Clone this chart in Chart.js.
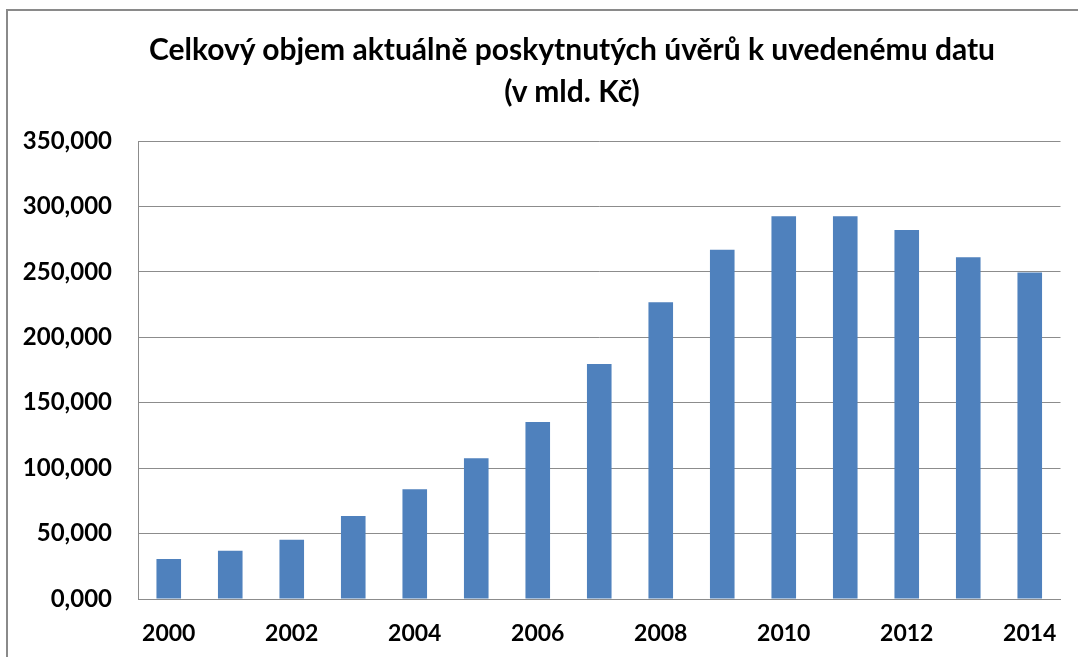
<!DOCTYPE html>
<html>
<head>
<meta charset="utf-8">
<script src="https://cdn.jsdelivr.net/npm/chart.js@4.4.1/dist/chart.umd.min.js"></script>
<style>
  html, body { margin: 0; padding: 0; background: #fff; }
  #wrap { position: relative; width: 1078px; height: 657px; overflow: hidden; }
  #frame { position: absolute; left: 6px; top: 9px; right: 0; bottom: 0;
           border-left: 2px solid #8a8a8a; border-top: 2px solid #8a8a8a; }
  #title { position: absolute; left: 0; top: 27px; width: 1144px; text-align: center;
           font: bold 30px/42px Lato, "Open Sans", sans-serif; color: #000; white-space: nowrap; }
  canvas { position: absolute; left: 0; top: 0; }
</style>
</head>
<body>
<div id="wrap">
  <div id="frame"></div>
  <canvas id="uvery" width="1078" height="657"></canvas>
  <div id="title"></div>
</div>
<script>
const years = ['2000', '2001', '2002', '2003', '2004', '2005', '2006', '2007',
               '2008', '2009', '2010', '2011', '2012', '2013', '2014'];
// objem úvěrů v mld. Kč
const volumes = [30.6, 36.8, 45.3, 63.5, 83.9, 107.5, 135.2, 179.5,
                 226.7, 266.8, 292.5, 292.5, 281.9, 261.1, 249.5];
const titleLines = ['Celkový objem aktuálně poskytnutých úvěrů k uvedenému datu', '(v mld. Kč)'];
const yMax = 350;
const yStep = 50;

const fontFamily = 'Lato, "Open Sans", sans-serif';
const gridColor = '#8c8c8c';

// titulek jako HTML text nad grafem (Excel ho centruje na širší oblast)
const titleEl = document.getElementById('title');
titleLines.forEach(line => {
    const d = document.createElement('div');
    d.textContent = line;
    titleEl.appendChild(d);
});

const ctx = document.getElementById('uvery').getContext('2d');
new Chart(ctx, {
    type: 'bar',
    data: {
        labels: years,
        datasets: [{
            label: 'Objem úvěrů',
            data: volumes,
            backgroundColor: '#4f81bd',
            borderWidth: 0,
            barPercentage: 0.4,
            categoryPercentage: 1.0
        }]
    },
    options: {
        responsive: false,
        animation: false,
        devicePixelRatio: 1,
        layout: { padding: { top: 141, left: 0, right: 17, bottom: 0 } },
        plugins: {
            legend: { display: false },
            tooltip: { enabled: false },
            title: { display: false }
        },
        scales: {
            x: {
                grid: { display: false, drawTicks: false },
                border: { display: true, color: gridColor, width: 1 },
                ticks: {
                    autoSkip: false,
                    maxRotation: 0,
                    color: '#000',
                    padding: 21,
                    font: { family: fontFamily, size: 23, weight: 'bold' },
                    callback: function (value, index) {
                        return index % 2 === 0 ? this.getLabelForValue(value) : '';
                    }
                },
                afterFit: scale => { scale.height = 58; }
            },
            y: {
                min: 0,
                max: yMax,
                grid: { color: gridColor, lineWidth: 1, drawTicks: false },
                border: { display: true, color: gridColor, width: 1 },
                ticks: {
                    stepSize: yStep,
                    color: '#000',
                    padding: 26,
                    font: { family: fontFamily, size: 24, weight: 'bold' },
                    callback: value => value.toFixed(3).replace('.', ',')
                },
                afterFit: scale => { scale.width = 138; }
            }
        }
    }
});
</script>
</body>
</html>
